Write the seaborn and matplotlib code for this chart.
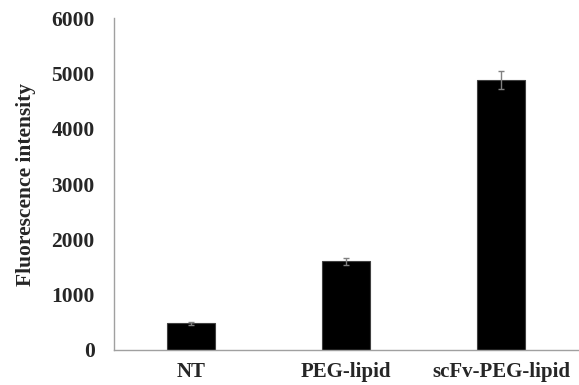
import pandas as pd
import matplotlib.pyplot as plt
import seaborn as sns

# Datos
grupos = ["NT", "PEG-lipid", "scFv-PEG-lipid"]
intensidad = [480, 1600, 4880]
error = [20, 60, 160]

datos = pd.DataFrame({"grupo": grupos, "intensidad": intensidad})

sns.set_style("white")
plt.rcParams['font.family'] = ['Liberation Serif', 'DejaVu Serif']
plt.rcParams['font.weight'] = 'bold'

fig = plt.figure(figsize=(5.79, 3.85), dpi=100)
ax = fig.add_axes([0.197, 0.091, 0.802, 0.862])

sns.barplot(x="grupo", y="intensidad", data=datos, color="black", width=0.31,
            edgecolor="#404040", linewidth=0.8, errorbar=None, ax=ax)
ax.errorbar(range(len(grupos)), intensidad, yerr=error, fmt="none",
            ecolor="#808080", elinewidth=1, capsize=2.5, capthick=1)

ax.set_ylim(0, 6000)
ax.set_xlim(-0.5, 2.5)
ax.set_yticks(range(0, 6001, 1000))
ax.set_xlabel("")
ax.set_ylabel("Fluorescence intensity", fontsize=15.5, fontweight="bold", labelpad=11)
ax.tick_params(axis="y", length=0, labelsize=15.5, pad=14)
ax.tick_params(axis="x", length=0, labelsize=15, pad=9)
for lab in ax.get_xticklabels() + ax.get_yticklabels():
    lab.set_fontweight("bold")

sns.despine(ax=ax)
for s in ["left", "bottom"]:
    ax.spines[s].set_color("#a0a0a0")
    ax.spines[s].set_linewidth(1)

plt.savefig("out.png", dpi=100)
